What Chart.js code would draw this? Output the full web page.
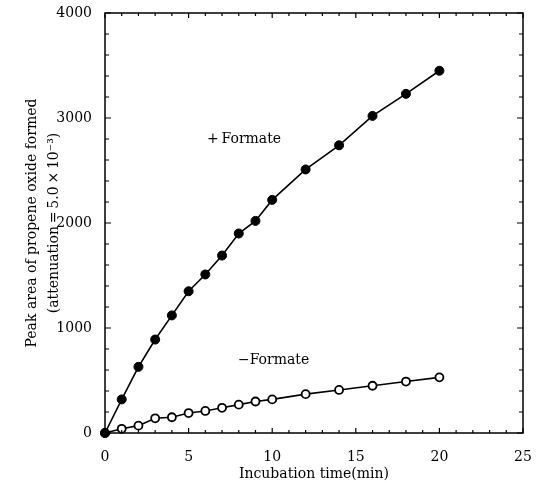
<!DOCTYPE html>
<html>
<head>
<meta charset="utf-8">
<script src="https://cdn.jsdelivr.net/npm/chart.js@4"></script>
<style>
  body { margin: 0; background: #fff; }
</style>
</head>
<body>
<canvas id="myChart" width="537" height="483"></canvas>
<script>
// incubation time (min)
var times = [0, 1, 2, 3, 4, 5, 6, 7, 8, 9, 10, 12, 14, 16, 18, 20];
// peak area, with formate (filled circles)
var plusFormate = [0, 320, 630, 890, 1120, 1350, 1510, 1690, 1900, 2020, 2220, 2510, 2740, 3020, 3230, 3450];
// peak area, without formate (open circles)
var minusFormate = [0, 40, 70, 140, 150, 190, 210, 240, 270, 300, 320, 370, 410, 450, 490, 530];

var xTicks = [0, 5, 10, 15, 20, 25];
var yTicks = [0, 1000, 2000, 3000, 4000];

var serif = "'DejaVu Serif', 'Liberation Serif', serif";

function toPoints(ys) {
  return times.map(function (t, i) { return { x: t, y: ys[i] }; });
}

// frame, inward ticks on all four sides, curve labels
var framePlugin = {
  id: 'frame',
  afterDraw: function (chart) {
    var ctx = chart.ctx;
    var xs = chart.scales.x, ys = chart.scales.y;
    var a = chart.chartArea;
    ctx.save();
    ctx.strokeStyle = '#000';
    ctx.lineWidth = 1.5;
    ctx.strokeRect(a.left, a.top, a.right - a.left, a.bottom - a.top);

    ctx.lineWidth = 1.2;
    ctx.beginPath();
    for (var v = 0; v <= 25; v += 1) {
      var px = xs.getPixelForValue(v);
      var len = xTicks.indexOf(v) >= 0 ? 5 : 3;
      ctx.moveTo(px, a.bottom); ctx.lineTo(px, a.bottom - len);
      ctx.moveTo(px, a.top); ctx.lineTo(px, a.top + len);
    }
    for (var w = 0; w <= 4000; w += 200) {
      var py = ys.getPixelForValue(w);
      var l2 = yTicks.indexOf(w) >= 0 ? 6 : 4;
      ctx.moveTo(a.left, py); ctx.lineTo(a.left + l2, py);
      ctx.moveTo(a.right, py); ctx.lineTo(a.right - l2, py);
    }
    ctx.stroke();

    ctx.fillStyle = '#000';
    ctx.font = '14px ' + serif;
    ctx.textAlign = 'left';
    ctx.textBaseline = 'middle';
    ctx.fillText('+\u2009Formate', xs.getPixelForValue(6.1), ys.getPixelForValue(2800));
    ctx.fillText('\u2212Formate', xs.getPixelForValue(7.95), ys.getPixelForValue(690));
    ctx.restore();
  }
};

var data = {
  datasets: [{
    label: '+Formate',
    data: toPoints(plusFormate),
    borderColor: '#000',
    backgroundColor: '#000',
    borderWidth: 1.6,
    pointRadius: 4.5,
    pointBorderWidth: 1,
    pointBackgroundColor: '#000',
    clip: false
  }, {
    label: '-Formate',
    data: toPoints(minusFormate),
    borderColor: '#000',
    backgroundColor: '#fff',
    borderWidth: 1.6,
    pointRadius: 4,
    pointBorderWidth: 1.8,
    pointBackgroundColor: '#fff',
    clip: false
  }]
};

var config = {
  type: 'line',
  data: data,
  options: {
    responsive: false,
    animation: false,
    layout: { padding: { top: 13, right: 14, left: 0, bottom: 0 } },
    plugins: { legend: { display: false }, tooltip: { enabled: false } },
    scales: {
      x: {
        type: 'linear',
        min: 0,
        max: 25,
        afterFit: function (s) { s.height = 50; s.paddingLeft = 0; s.paddingRight = 0; },
        afterBuildTicks: function (s) { s.ticks = xTicks.map(function (v) { return { value: v }; }); },
        grid: { display: false },
        border: { display: false },
        ticks: {
          color: '#000',
          padding: 8,
          maxRotation: 0,
          font: { family: serif, size: 14 },
          callback: function (v) { return String(v); }
        },
        title: {
          display: true,
          text: 'Incubation time(min)',
          color: '#000',
          font: { family: serif, size: 14 },
          padding: { top: 0, bottom: 0 }
        }
      },
      y: {
        type: 'linear',
        min: 0,
        max: 4000,
        afterFit: function (s) { s.width = 105; s.paddingTop = 0; s.paddingBottom = 0; },
        afterBuildTicks: function (s) { s.ticks = yTicks.map(function (v) { return { value: v }; }); },
        grid: { display: false },
        border: { display: false },
        ticks: {
          color: '#000',
          padding: 5,
          font: { family: serif, size: 14 },
          callback: function (v) { return String(v); }
        },
        title: {
          display: true,
          text: ['Peak area of propene oxide formed', '(attenuation\u2009=\u20095.0\u2009\u00d7\u200910\u207b\u00b3)'],
          color: '#000',
          font: { family: serif, size: 14, lineHeight: 1.6 },
          padding: { top: 21, bottom: 0 }
        }
      }
    }
  },
  plugins: [framePlugin]
};

var myChart = new Chart(document.getElementById('myChart').getContext('2d'), config);
</script>
</body>
</html>
